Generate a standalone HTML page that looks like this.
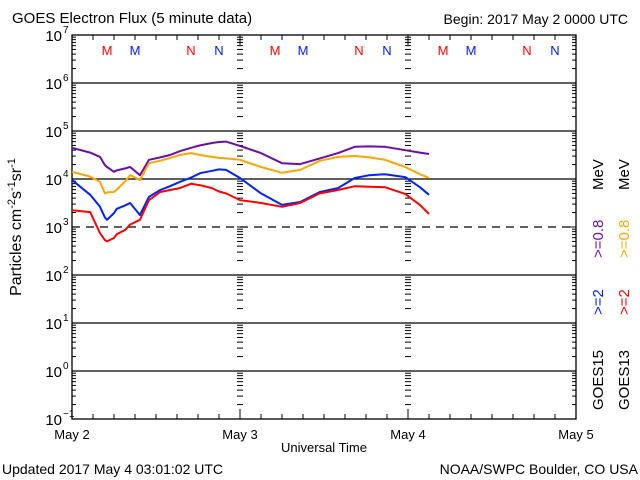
<!DOCTYPE html>
<html><head><meta charset="utf-8"><style>
body{margin:0;background:#fff;}
svg{display:block;font-family:"Liberation Sans",sans-serif;}
</style></head><body>
<svg id="chart" width="640" height="480" viewBox="0 0 640 480">
<rect width="640" height="480" fill="#fff"/>
<text x="12" y="23" font-size="15">GOES Electron Flux (5 minute data)</text>
<text x="628" y="24" font-size="14" text-anchor="end">Begin: 2017 May 2 0000 UTC</text>
<g id="grid"></g>
<g id="axes"></g>
<g id="series"></g>
<g id="marks"></g>
<text transform="translate(21,227) rotate(-90)" font-size="16" text-anchor="middle">Particles cm<tspan dy="-6" font-size="11">-2</tspan><tspan dy="6">s</tspan><tspan dy="-6" font-size="11">-1</tspan><tspan dy="6">sr</tspan><tspan dy="-6" font-size="11">-1</tspan></text>
<text x="324" y="452" font-size="13" text-anchor="middle">Universal Time</text>
<text x="2" y="474" font-size="14">Updated 2017 May  4 03:01:02 UTC</text>
<text x="638" y="474" font-size="14" text-anchor="end">NOAA/SWPC Boulder, CO USA</text>
<g transform="translate(603,410) rotate(-90)" font-size="15">
<text x="0" y="0" fill="#000">GOES15</text>
<text x="95" y="0" fill="#0022ff">&gt;=2</text>
<text x="152" y="0" fill="#6a0ea8">&gt;=0.8</text>
<text x="220" y="0" fill="#000">MeV</text>
</g>
<g transform="translate(629,410) rotate(-90)" font-size="15">
<text x="0" y="0" fill="#000">GOES13</text>
<text x="95" y="0" fill="#ff0000">&gt;=2</text>
<text x="152" y="0" fill="#ffa500">&gt;=0.8</text>
<text x="220" y="0" fill="#000">MeV</text>
</g>
</svg>
<script>
const dayLabels=["May 2","May 3","May 4","May 5"];
const yExps=[7,6,5,4,3,2,1,0,-1];
const hours=[0,2.6,4,4.7,5,6,6.4,7.6,8.3,9.7,11,12.6,14,15.4,17,18.3,20,21,22,24,27,30,32.6,35.4,38,40.4,42.5,44.7,47.6,49.7,51];
const purple=[4.65,4.55,4.46,4.29,4.25,4.15,4.18,4.22,4.25,4.08,4.4,4.45,4.5,4.58,4.65,4.7,4.75,4.77,4.78,4.69,4.54,4.33,4.31,4.43,4.54,4.67,4.68,4.67,4.6,4.55,4.52];
const orange=[4.15,4.05,3.94,3.7,3.72,3.73,3.78,3.95,4.08,3.98,4.33,4.38,4.44,4.5,4.54,4.5,4.46,4.44,4.43,4.4,4.25,4.13,4.19,4.38,4.46,4.48,4.45,4.4,4.25,4.1,4.02];
const blue=[3.98,3.67,3.42,3.2,3.15,3.29,3.38,3.45,3.5,3.25,3.63,3.77,3.85,3.94,4.03,4.12,4.17,4.2,4.19,4.02,3.7,3.46,3.52,3.73,3.81,4.02,4.08,4.1,4.04,3.83,3.67];
const red=[3.35,3.31,2.87,2.73,2.7,2.77,2.85,2.94,3.05,3.15,3.56,3.73,3.77,3.81,3.9,3.87,3.81,3.74,3.7,3.56,3.5,3.42,3.5,3.7,3.77,3.85,3.84,3.83,3.69,3.46,3.27];
const markerText=["M","M","N","N"];
const markerHours=[5,9,17,21];
const NS="http://www.w3.org/2000/svg";
const X0=72,X1=576,Y0=35,Y1=419;
function xs(h){return X0+(X1-X0)*h/72;}
function ys(l){return Y0+(7-l)*(Y1-Y0)/8;}
function mk(tag,attrs,parent){const e=document.createElementNS(NS,tag);for(const k in attrs)e.setAttribute(k,attrs[k]);parent.appendChild(e);return e;}
const grid=document.getElementById('grid'),axes=document.getElementById('axes'),ser=document.getElementById('series'),marks=document.getElementById('marks');
yExps.forEach(e=>{
  if(e===7||e===-1)return;
  const l=mk('line',{x1:X0,x2:X1,y1:ys(e),y2:ys(e),stroke:'#000','stroke-width':1.3},grid);
  if(e===3)l.setAttribute('stroke-dasharray','8,6');
  
  
});
const fr=mk('rect',{x:X0,y:Y0,width:X1-X0,height:Y1-Y0,fill:'none',stroke:'#000','stroke-width':1.3},axes);


for(let e=-1;e<7;e++){
  for(let m=1;m<10;m++){
    const y=ys(e+Math.log10(m));
    const len=m===1?8:4;
    mk('line',{x1:X0,x2:X0+len,y1:y,y2:y,stroke:'#000'},axes);
    mk('line',{x1:X1,x2:X1-len,y1:y,y2:y,stroke:'#000'},axes);
    [1,2].forEach(d=>{const x=xs(d*24);mk('line',{x1:x-3,x2:x+3,y1:y,y2:y,stroke:'#000'},axes);});
  }
}
yExps.forEach(e=>{
  const t=mk('text',{x:62,y:ys(e)+6,'font-size':15,'text-anchor':'end'},axes);
  t.textContent='10';
  
  
  const s=mk('text',{x:63,y:ys(e)-2,'font-size':10},axes);s.textContent=String(e).replace('-','\u2212');
});
for(let h=0;h<=72;h+=3){
  const x=xs(h),len=(h%24===0)?10:5;
  mk('line',{x1:x,x2:x,y1:Y1,y2:Y1-len,stroke:'#000'},axes);
  mk('line',{x1:x,x2:x,y1:Y0,y2:Y0+len,stroke:'#000'},axes);
}
dayLabels.forEach((d,i)=>{
  const t=mk('text',{x:xs(i*24),y:439,'font-size':13,'text-anchor':'middle'},axes);
  t.textContent=d;
  
  
});
const mcols=['#ff0000','#0022ff','#ff0000','#0022ff'];
for(let d=0;d<3;d++)markerText.forEach((m,i)=>{
  const t=mk('text',{x:xs(d*24+markerHours[i]),y:55,'font-size':13,'text-anchor':'middle',fill:mcols[i]},marks);
  t.textContent=m;
  
  
});
[[purple,'#6a0ea8','series-goes15-0p8mev'],[orange,'#ffa500','series-goes13-0p8mev'],[blue,'#0022ff','series-goes15-2mev'],[red,'#ff0000','series-goes13-2mev']].forEach(([arr,c,n])=>{
  const pts=arr.map((v,i)=>xs(hours[i]).toFixed(1)+','+ys(v).toFixed(1)).join(' ');
  const p=mk('polyline',{points:pts,fill:'none',stroke:c,'stroke-width':2,'stroke-linejoin':'round'},ser);
  
  
});
</script>
</body></html>
